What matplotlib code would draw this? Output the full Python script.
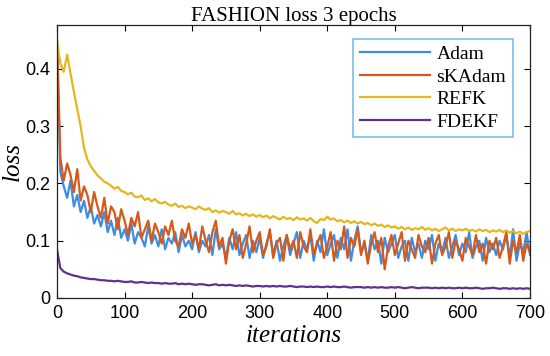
import numpy as np
import matplotlib
matplotlib.use("Agg")
import matplotlib.pyplot as plt

# iterations sampled every 5 steps (0..700)
iterations = list(range(0, 701, 5))

adam = [
    0.450, 0.220, 0.195, 0.175, 0.205, 0.160, 0.180, 0.150, 0.170, 0.140,
    0.160, 0.130, 0.145, 0.125, 0.150, 0.115, 0.135, 0.110, 0.140, 0.105,
    0.120, 0.100, 0.130, 0.095, 0.115, 0.105, 0.090, 0.125, 0.095, 0.110,
    0.090, 0.120, 0.085, 0.105, 0.095, 0.115, 0.080, 0.110, 0.090, 0.100,
    0.085, 0.115, 0.080, 0.100, 0.090, 0.110, 0.075, 0.120, 0.085, 0.095,
    0.070, 0.105, 0.085, 0.115, 0.075, 0.095, 0.110, 0.070, 0.100, 0.080,
    0.105, 0.070, 0.095, 0.115, 0.075, 0.100, 0.065, 0.090, 0.110, 0.075,
    0.095, 0.115, 0.070, 0.100, 0.085, 0.110, 0.065, 0.100, 0.080, 0.120,
    0.075, 0.095, 0.110, 0.070, 0.105, 0.085, 0.120, 0.065, 0.100, 0.125,
    0.080, 0.095, 0.065, 0.110, 0.085, 0.100, 0.060, 0.105, 0.080, 0.095,
    0.110, 0.070, 0.090, 0.100, 0.065, 0.105, 0.080, 0.095, 0.070, 0.100,
    0.085, 0.110, 0.065, 0.095, 0.080, 0.105, 0.070, 0.090, 0.110, 0.075,
    0.095, 0.080, 0.115, 0.070, 0.090, 0.100, 0.065, 0.105, 0.080, 0.095,
    0.075, 0.100, 0.085, 0.110, 0.070, 0.120, 0.065, 0.095, 0.080, 0.115,
    0.075,
]

skadam = [
    0.450, 0.245, 0.205, 0.235, 0.215, 0.185, 0.225, 0.170, 0.195, 0.180,
    0.150, 0.185, 0.160, 0.140, 0.175, 0.130, 0.160, 0.150, 0.120, 0.155,
    0.135, 0.110, 0.140, 0.125, 0.150, 0.105, 0.120, 0.135, 0.100, 0.130,
    0.115, 0.095, 0.125, 0.110, 0.135, 0.100, 0.090, 0.120, 0.105, 0.130,
    0.095, 0.110, 0.085, 0.125, 0.100, 0.080, 0.115, 0.135, 0.090, 0.105,
    0.060, 0.100, 0.120, 0.085, 0.110, 0.070, 0.095, 0.125, 0.080, 0.100,
    0.115, 0.075, 0.090, 0.120, 0.070, 0.095, 0.105, 0.065, 0.110, 0.085,
    0.100, 0.070, 0.115, 0.090, 0.080, 0.120, 0.075, 0.095, 0.110, 0.070,
    0.090, 0.115, 0.065, 0.100, 0.085, 0.125, 0.070, 0.105, 0.090, 0.120,
    0.075, 0.100, 0.060, 0.095, 0.115, 0.080, 0.105, 0.050, 0.090, 0.110,
    0.075, 0.095, 0.115, 0.065, 0.100, 0.085, 0.070, 0.110, 0.090, 0.080,
    0.105, 0.060, 0.095, 0.110, 0.075, 0.090, 0.115, 0.070, 0.100, 0.085,
    0.065, 0.105, 0.090, 0.075, 0.110, 0.080, 0.095, 0.060, 0.100, 0.085,
    0.105, 0.070, 0.090, 0.115, 0.060, 0.100, 0.080, 0.110, 0.065, 0.095,
    0.080,
]

refk = [
    0.448, 0.410, 0.395, 0.425, 0.392, 0.360, 0.330, 0.300, 0.262, 0.242,
    0.230, 0.222, 0.214, 0.209, 0.203, 0.200, 0.196, 0.191, 0.194, 0.187,
    0.185, 0.181, 0.184, 0.177, 0.176, 0.179, 0.171, 0.174, 0.169, 0.173,
    0.167, 0.165, 0.168, 0.163, 0.161, 0.165, 0.159, 0.161, 0.157, 0.160,
    0.158, 0.155, 0.160, 0.156, 0.154, 0.157, 0.150, 0.153, 0.149, 0.152,
    0.150, 0.147, 0.152, 0.146, 0.148, 0.144, 0.147, 0.143, 0.146, 0.142,
    0.145, 0.141, 0.144, 0.139, 0.143, 0.140, 0.137, 0.142, 0.138, 0.140,
    0.136, 0.141, 0.137, 0.139, 0.135, 0.140, 0.134, 0.131, 0.138, 0.136,
    0.142, 0.137, 0.139, 0.134, 0.136, 0.132, 0.135, 0.131, 0.134, 0.130,
    0.133, 0.129, 0.131, 0.127, 0.130, 0.126, 0.128, 0.124, 0.127, 0.123,
    0.125, 0.121, 0.124, 0.120, 0.123, 0.119, 0.122, 0.120, 0.124, 0.119,
    0.122, 0.118, 0.121, 0.117, 0.120, 0.123, 0.118, 0.121, 0.117, 0.120,
    0.118, 0.121, 0.117, 0.119, 0.116, 0.120, 0.117, 0.119, 0.115, 0.118,
    0.116, 0.119, 0.115, 0.118, 0.114, 0.117, 0.113, 0.116, 0.112, 0.115,
    0.117,
]

fdekf = [
    0.085, 0.052, 0.046, 0.043, 0.041, 0.039, 0.038, 0.036, 0.035, 0.034,
    0.033, 0.033, 0.032, 0.031, 0.031, 0.030, 0.030, 0.029, 0.030, 0.029,
    0.028, 0.028, 0.029, 0.027, 0.027, 0.028, 0.027, 0.026, 0.027, 0.026,
    0.026, 0.025, 0.026, 0.025, 0.025, 0.026, 0.024, 0.025, 0.024, 0.025,
    0.024, 0.023, 0.024, 0.024, 0.023, 0.022, 0.023, 0.024, 0.022, 0.023,
    0.022, 0.023, 0.022, 0.021, 0.022, 0.021, 0.022, 0.021, 0.020, 0.021,
    0.021, 0.020, 0.021, 0.020, 0.021, 0.020, 0.021, 0.020, 0.020, 0.021,
    0.020, 0.019, 0.020, 0.020, 0.019, 0.020, 0.019, 0.020, 0.019, 0.019,
    0.020, 0.019, 0.020, 0.019, 0.019, 0.020, 0.019, 0.018, 0.019, 0.019,
    0.019, 0.018, 0.019, 0.018, 0.019, 0.018, 0.019, 0.018, 0.018, 0.019,
    0.018, 0.019, 0.018, 0.017, 0.018, 0.019, 0.018, 0.017, 0.018, 0.018,
    0.018, 0.017, 0.018, 0.017, 0.018, 0.017, 0.018, 0.017, 0.017, 0.018,
    0.017, 0.018, 0.017, 0.017, 0.018, 0.017, 0.016, 0.017, 0.017, 0.018,
    0.017, 0.016, 0.017, 0.017, 0.016, 0.017, 0.016, 0.017, 0.016, 0.017,
    0.016,
]

series_names = ["Adam", "sKAdam", "REFK", "FDEKF"]
series_colors = ["#3C8DE6", "#D6591C", "#E2B71F", "#62308C"]

xticks = [0, 100, 200, 300, 400, 500, 600, 700]
yticks = [0, 0.1, 0.2, 0.3, 0.4]
ytick_labels = ["0", "0.1", "0.2", "0.3", "0.4"]

fig = plt.figure(figsize=(5.5, 3.56), dpi=100)
ax = fig.add_axes([0.1036, 0.163, 0.86, 0.767])

for vals, name, col in zip([adam, skadam, refk, fdekf], series_names, series_colors):
    ax.plot(iterations, vals, color=col, lw=1.6, label=name)

ax.set_xlim(0, 700)
ax.set_ylim(0, 0.477)
ax.set_xticks(xticks)
ax.set_yticks(yticks)
ax.set_yticklabels(ytick_labels)
ax.tick_params(direction="in", top=True, right=True, length=4, width=0.8,
               labelsize=13, pad=5)
for lbl in ax.get_xticklabels() + ax.get_yticklabels():
    lbl.set_fontfamily("Liberation Sans")
for sp in ax.spines.values():
    sp.set_linewidth(0.9)
    sp.set_color("#222222")

ax.set_title("FASHION loss 3 epochs", fontfamily="Liberation Serif",
             fontsize=15, pad=3)
ax.set_xlabel("iterations", fontfamily="Liberation Serif", style="italic",
              fontsize=18, labelpad=2)
ax.set_ylabel("loss", fontfamily="Liberation Serif", style="italic",
              fontsize=18, labelpad=1)

leg = ax.legend(loc="upper right", bbox_to_anchor=(0.964, 0.949),
                borderaxespad=0,
                prop={"family": "Liberation Serif", "size": 14},
                handlelength=3.6, handletextpad=0.35, labelspacing=0.25,
                borderpad=0.35, fancybox=False, framealpha=1)
leg.get_frame().set_edgecolor("#7ABDEB")
leg.get_frame().set_linewidth(1.2)

fig.savefig("out.png", dpi=100)
